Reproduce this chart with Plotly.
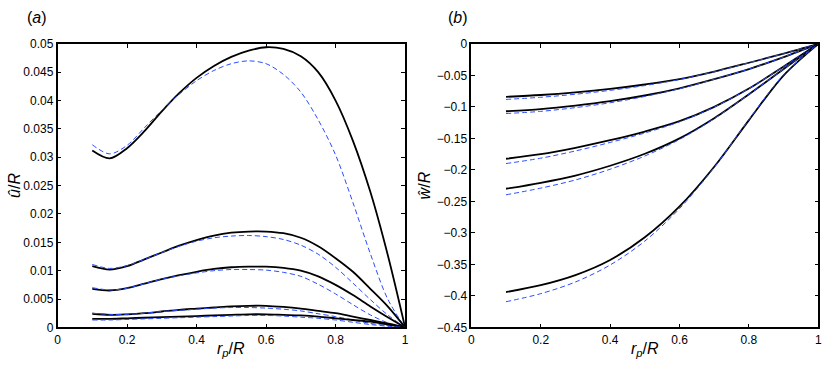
import plotly.graph_objects as go

# ---------------- data ----------------
x_a = [0.1, 0.15, 0.2, 0.25, 0.3, 0.35, 0.4, 0.45, 0.5, 0.55, 0.6, 0.65, 0.7, 0.75, 0.8, 0.85, 0.9, 0.95, 1.0]

u1_solid = [0.0312, 0.0298, 0.0316, 0.0346, 0.0381, 0.0413, 0.0440, 0.0461, 0.0477, 0.0488, 0.0494, 0.0491, 0.0478, 0.0450, 0.0400, 0.0329, 0.0239, 0.0128, 0.0]
u1_dash = [0.0322, 0.0306, 0.0321, 0.0352, 0.0383, 0.0411, 0.0435, 0.0453, 0.0465, 0.0470, 0.0465, 0.0446, 0.0415, 0.0366, 0.0304, 0.0220, 0.0130, 0.0050, 0.0]
u2_solid = [0.0108, 0.0102, 0.0108, 0.0120, 0.0132, 0.0144, 0.0154, 0.0162, 0.0167, 0.0169, 0.0169, 0.0166, 0.0158, 0.0143, 0.0122, 0.0098, 0.0068, 0.0037, 0.0]
u2_dash = [0.0111, 0.0104, 0.0109, 0.0120, 0.0132, 0.0143, 0.0152, 0.0158, 0.0161, 0.0162, 0.0160, 0.0155, 0.0145, 0.0129, 0.0106, 0.0078, 0.0049, 0.0022, 0.0]
u3_solid = [0.0068, 0.0065, 0.0069, 0.0077, 0.0085, 0.0092, 0.0098, 0.0103, 0.0106, 0.0107, 0.0107, 0.0105, 0.0100, 0.0090, 0.0075, 0.0057, 0.0037, 0.0018, 0.0]
u3_dash = [0.0070, 0.0066, 0.0069, 0.0077, 0.0085, 0.0091, 0.0096, 0.0100, 0.0102, 0.0102, 0.0101, 0.0097, 0.0090, 0.0076, 0.0059, 0.0040, 0.0022, 0.0008, 0.0]
u4_solid = [0.0024, 0.0022, 0.0023, 0.0025, 0.0028, 0.0031, 0.0033, 0.0035, 0.0037, 0.0038, 0.0038, 0.0036, 0.0033, 0.0029, 0.0025, 0.0019, 0.0013, 0.0007, 0.0]
u4_dash = [0.0025, 0.0023, 0.0023, 0.0025, 0.0028, 0.0030, 0.0032, 0.0034, 0.0035, 0.0035, 0.0034, 0.0032, 0.0029, 0.0024, 0.0019, 0.0013, 0.0007, 0.0003, 0.0]
u5_solid = [0.0015, 0.0015, 0.0016, 0.0017, 0.0018, 0.0019, 0.0020, 0.0021, 0.0022, 0.0023, 0.0023, 0.0022, 0.0021, 0.0019, 0.0016, 0.0013, 0.0010, 0.0005, 0.0]
u5_dash = [0.0013, 0.0013, 0.0014, 0.0015, 0.0016, 0.0017, 0.0018, 0.0019, 0.0020, 0.0021, 0.0021, 0.0020, 0.0018, 0.0016, 0.0013, 0.0009, 0.0005, 0.0002, 0.0]

x_b = [0.1, 0.2, 0.3, 0.4, 0.5, 0.6, 0.7, 0.8, 0.9, 1.0]

w1_solid = [-0.0841, -0.0812, -0.0770, -0.0715, -0.0645, -0.0560, -0.0440, -0.0300, -0.0155, 0.0]
w1_dash = [-0.0882, -0.0848, -0.0800, -0.0738, -0.0662, -0.0566, -0.0442, -0.0300, -0.0155, 0.0]
w2_solid = [-0.1070, -0.1035, -0.0980, -0.0910, -0.0820, -0.0705, -0.0560, -0.0400, -0.0210, 0.0]
w2_dash = [-0.1106, -0.1072, -0.1012, -0.0935, -0.0835, -0.0712, -0.0562, -0.0400, -0.0210, 0.0]
w3_solid = [-0.1824, -0.1752, -0.1650, -0.1530, -0.1392, -0.1228, -0.1000, -0.0710, -0.0360, 0.0]
w3_dash = [-0.1900, -0.1815, -0.1700, -0.1565, -0.1415, -0.1238, -0.1004, -0.0710, -0.0360, 0.0]
w4_solid = [-0.2300, -0.2205, -0.2090, -0.1935, -0.1745, -0.1500, -0.1180, -0.0800, -0.0400, 0.0]
w4_dash = [-0.2396, -0.2290, -0.2160, -0.1990, -0.1780, -0.1518, -0.1188, -0.0800, -0.0400, 0.0]
w5_solid = [-0.3940, -0.3830, -0.3670, -0.3430, -0.3070, -0.2580, -0.1950, -0.1210, -0.0500, 0.0]
w5_dash = [-0.4093, -0.3965, -0.3780, -0.3510, -0.3130, -0.2615, -0.1960, -0.1200, -0.0490, 0.0]

xticks = [0, 0.2, 0.4, 0.6, 0.8, 1]
xtick_labels = ["0", "0.2", "0.4", "0.6", "0.8", "1"]
yticks_a = [0, 0.005, 0.01, 0.015, 0.02, 0.025, 0.03, 0.035, 0.04, 0.045, 0.05]
ytick_labels_a = ["0", "0.005", "0.01", "0.015", "0.02", "0.025", "0.03", "0.035", "0.04", "0.045", "0.05"]
yticks_b = [0, -0.05, -0.1, -0.15, -0.2, -0.25, -0.3, -0.35, -0.4, -0.45]
ytick_labels_b = ["0", "\u22120.05", "\u22120.1", "\u22120.15", "\u22120.2", "\u22120.25", "\u22120.3", "\u22120.35", "\u22120.4", "\u22120.45"]

# ---------------- figure ----------------
FONT = "Liberation Sans, Arial, sans-serif"
BLACK_LINE = dict(color="black", width=1.8, shape="spline", smoothing=0.9)
BLUE_LINE = dict(color="#2a4dff", width=1.0, dash="5px,3px", shape="spline", smoothing=0.9)

fig = go.Figure()

pairs_a = [(u1_solid, u1_dash), (u2_solid, u2_dash), (u3_solid, u3_dash), (u4_solid, u4_dash), (u5_solid, u5_dash)]
pairs_b = [(w1_solid, w1_dash), (w2_solid, w2_dash), (w3_solid, w3_dash), (w4_solid, w4_dash), (w5_solid, w5_dash)]

for s, d in pairs_a:
    fig.add_trace(go.Scatter(x=x_a, y=s, mode="lines", line=BLACK_LINE, xaxis="x", yaxis="y", showlegend=False, hoverinfo="skip"))
    fig.add_trace(go.Scatter(x=x_a, y=d, mode="lines", line=BLUE_LINE, xaxis="x", yaxis="y", showlegend=False, hoverinfo="skip"))
for s, d in pairs_b:
    fig.add_trace(go.Scatter(x=x_b, y=s, mode="lines", line=BLACK_LINE, xaxis="x2", yaxis="y2", showlegend=False, hoverinfo="skip"))
    fig.add_trace(go.Scatter(x=x_b, y=d, mode="lines", line=BLUE_LINE, xaxis="x2", yaxis="y2", showlegend=False, hoverinfo="skip"))

W, H = 830, 369
L1, R1 = 55, 405.5
L2, R2 = 472.3, 822.3
TOP, BOT = 38.3, 333

common_axis = dict(
    showgrid=False, zeroline=False, showline=True, linecolor="black", linewidth=1.5,
    mirror="allticks", ticks="inside", ticklen=4, tickwidth=1, tickcolor="black",
    ticklabeloverflow="allow",
    tickfont=dict(family=FONT, size=12, color="black"),
)

ydom = [(H - BOT) / H, (H - TOP) / H]

fig.update_layout(
    width=W, height=H,
    margin=dict(l=0, r=0, t=0, b=0),
    paper_bgcolor="white", plot_bgcolor="white",
    font=dict(family=FONT, color="black"),
    xaxis=dict(domain=[L1 / W, R1 / W], range=[0, 1], tickvals=xticks, ticktext=xtick_labels, anchor="y", **common_axis),
    yaxis=dict(domain=ydom, range=[0, 0.05], tickvals=yticks_a, ticktext=ytick_labels_a, anchor="x", **common_axis),
    xaxis2=dict(domain=[L2 / W, R2 / W], range=[0, 1], tickvals=xticks, ticktext=xtick_labels, anchor="y2", **common_axis),
    yaxis2=dict(domain=ydom, range=[-0.45, 0], tickvals=yticks_b, ticktext=ytick_labels_b, anchor="x2", **common_axis),
)

def P(px, py):
    return px / W, 1 - py / H

ann_font = dict(family=FONT, size=16, color="black")
annotations = []
for txt, (px, py), ang in [
    ("(<i>a</i>)", (34, 11), 0),
    ("(<i>b</i>)", (459, 11), 0),
    ("<i>û</i>/<i>R</i>", (12, 185), -90),
    ("<i>ŵ</i>/<i>R</i>", (426, 185), -90),
    ("<i>r</i><sub><i>p</i></sub>/<i>R</i>", (230, 356), 0),
    ("<i>r</i><sub><i>p</i></sub>/<i>R</i>", (647, 356), 0),
]:
    x, y = P(px, py)
    annotations.append(dict(text=txt, x=x, y=y, xref="paper", yref="paper", showarrow=False,
                            font=ann_font, textangle=ang, xanchor="center", yanchor="middle"))
fig.update_layout(annotations=annotations)

# the page body has a default 8px margin; remove it so the 830x369 figure fills the window
fig.write_html("out.html", config={"displayModeBar": False},
               post_script="document.body.style.margin='0';")
